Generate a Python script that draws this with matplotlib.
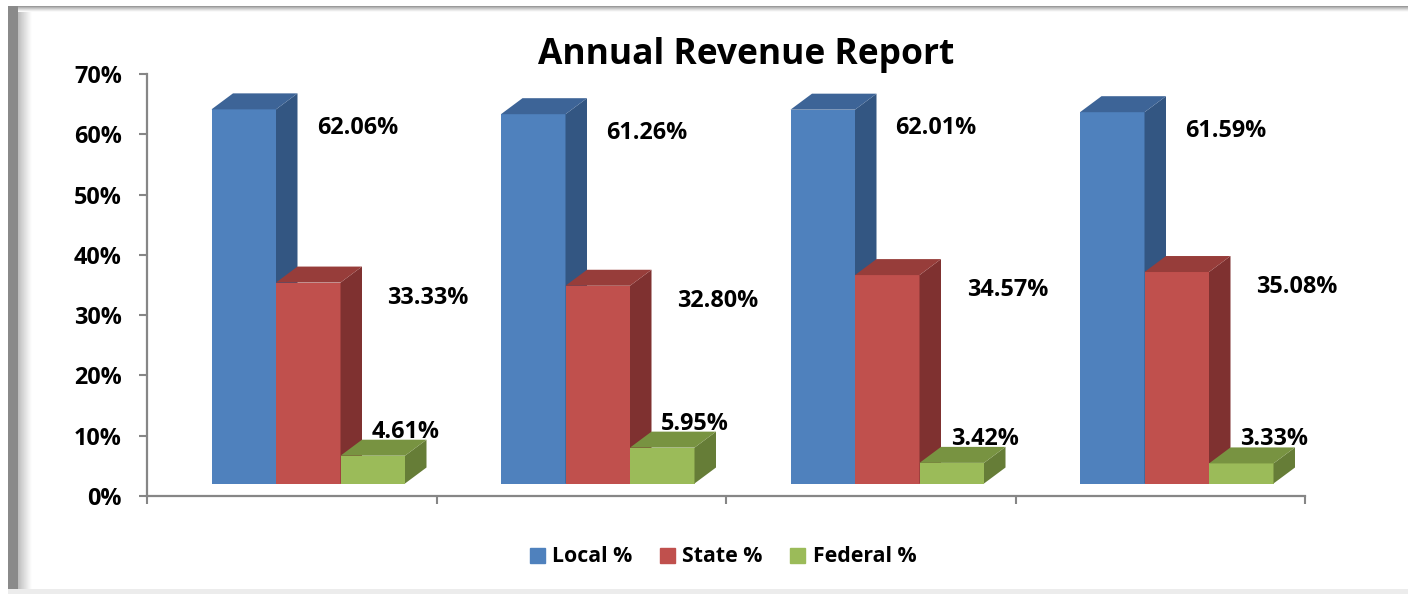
import matplotlib
matplotlib.use("Agg")
import matplotlib.pyplot as plt
from matplotlib.patches import Polygon, Rectangle
import numpy as np

# ---------------- data ----------------
categories = ["Year 1", "Year 2", "Year 3", "Year 4"]
series_names = ["Local %", "State %", "Federal %"]
local = [62.06, 61.26, 62.01, 61.59]
state = [33.33, 32.80, 34.57, 35.08]
federal = [4.61, 5.95, 3.42, 3.33]
y_ticks = [0, 10, 20, 30, 40, 50, 60, 70]
y_tick_labels = ["0%", "10%", "20%", "30%", "40%", "50%", "60%", "70%"]
title = "Annual Revenue Report"

# ---------------- style ----------------
FONT = ["Open Sans", "DejaVu Sans"]
plt.rcParams["font.family"] = FONT
plt.rcParams["font.weight"] = "bold"
W, H = 1408, 594
front_colors = ["#4F81BD", "#C0504D", "#9BBB59"]
top_colors = ["#3D6497", "#973D3A", "#789341"]
side_colors = ["#335682", "#7F3130", "#667D37"]

fig = plt.figure(figsize=(W / 100, H / 100), dpi=100)
fig.patch.set_facecolor("white")

# background frame (left shaded bar, top and bottom rule)
bg = fig.add_axes([0, 0, 1, 1], zorder=-10)
bg.set_xlim(0, W)
bg.set_ylim(H, 0)
bg.axis("off")
grad = np.linspace(0, 1, 64)[None, :]
bg.imshow(grad ** 0.8, cmap="gray", vmin=-0.9, vmax=1.0, extent=[8, 32, H, 6],
          aspect="auto", interpolation="bilinear")
bg.add_patch(Rectangle((8, 6), 10, H - 6, color="#8a8a8a", lw=0))
tgrad = np.linspace(0, 1, 16)[:, None]
bg.imshow(tgrad ** 0.7, cmap="gray", vmin=-1.2, vmax=1.0, extent=[8, W, 12, 6],
          aspect="auto", interpolation="bilinear")
bg.add_patch(Rectangle((8, 589), W - 8, 5, color="#ececec", lw=0))
bg.set_xlim(0, W)
bg.set_ylim(H, 0)

# main axes
x0, x1, y0, y1 = 147, 1305, 496, 74
ax = fig.add_axes([x0 / W, (H - y0) / H, (x1 - x0) / W, (y0 - y1) / H])
ax.set_xlim(-0.5, len(categories) - 0.5)
ax.set_ylim(0, 70)
ax.patch.set_alpha(0)

pxx = (x1 - x0) / len(categories)   # px per category unit
pxy = (y0 - y1) / 70.0              # px per percent

bw = 64.5 / pxx          # bar width in data units
fx = 16.5 / pxx          # front-face horizontal shift
fy = 12.5 / pxy          # front-face vertical shift (base)
dx = 21.5 / pxx          # depth offset
dy = 16.0 / pxy

label_dx = [113.5 / pxx, 120 / pxx, 33 / pxx]
label_dy = [-15.5 / pxy, -12 / pxy, 27 / pxy]

xs = np.arange(len(categories))
all_series = [local, state, federal]
handles = []
for i, vals in enumerate(all_series):
    lefts = xs - 1.5 * bw + i * bw + fx
    ax.bar(lefts, vals, width=bw, bottom=fy, align="edge",
           color=front_colors[i], lw=0, zorder=2 + i, label=series_names[i])
    for xl, v in zip(lefts, vals):
        xr = xl + bw
        top = fy + v
        side = Polygon([(xr, fy), (xr + dx, fy + dy), (xr + dx, top + dy), (xr, top)],
                       closed=True, facecolor=side_colors[i], lw=0, zorder=2 + i)
        tp = Polygon([(xl, top), (xl + dx, top + dy), (xr + dx, top + dy), (xr, top)],
                     closed=True, facecolor=top_colors[i], lw=0, zorder=2 + i)
        ax.add_patch(side)
        ax.add_patch(tp)
        ax.text(xl + bw / 2 + label_dx[i], top + label_dy[i], f"{v:.2f}%",
                ha="center", va="center_baseline", fontsize=16.8, fontweight="bold",
                color="black", zorder=10)
    handles.append(Rectangle((0, 0), 1, 1, color=front_colors[i]))

# axes styling
for s in ["top", "right"]:
    ax.spines[s].set_visible(False)
for s in ["left", "bottom"]:
    ax.spines[s].set_color("#868686")
    ax.spines[s].set_linewidth(1.6)
ax.set_yticks(y_ticks)
ax.set_yticklabels(y_tick_labels, fontsize=16.8, fontweight="bold")
ax.tick_params(axis="y", direction="out", length=6, width=1.5, color="#868686", pad=12)
ax.set_xticks(np.arange(len(categories) + 1) - 0.5)
ax.set_xticklabels([])
ax.tick_params(axis="x", direction="out", length=6, width=1.5, color="#868686")

fig.text(746 / W, 1 - 55 / H, title, ha="center", va="center", fontsize=25.5,
         fontweight="bold")

leg = fig.legend(handles, series_names, loc="center", bbox_to_anchor=(723 / W, 1 - 557 / H),
                 ncol=3, frameon=False, handlelength=0.7, handleheight=0.7,
                 handletextpad=0.35, columnspacing=1.3,
                 prop={"weight": "bold", "size": 15.3})

fig.savefig("out.png", dpi=100)
